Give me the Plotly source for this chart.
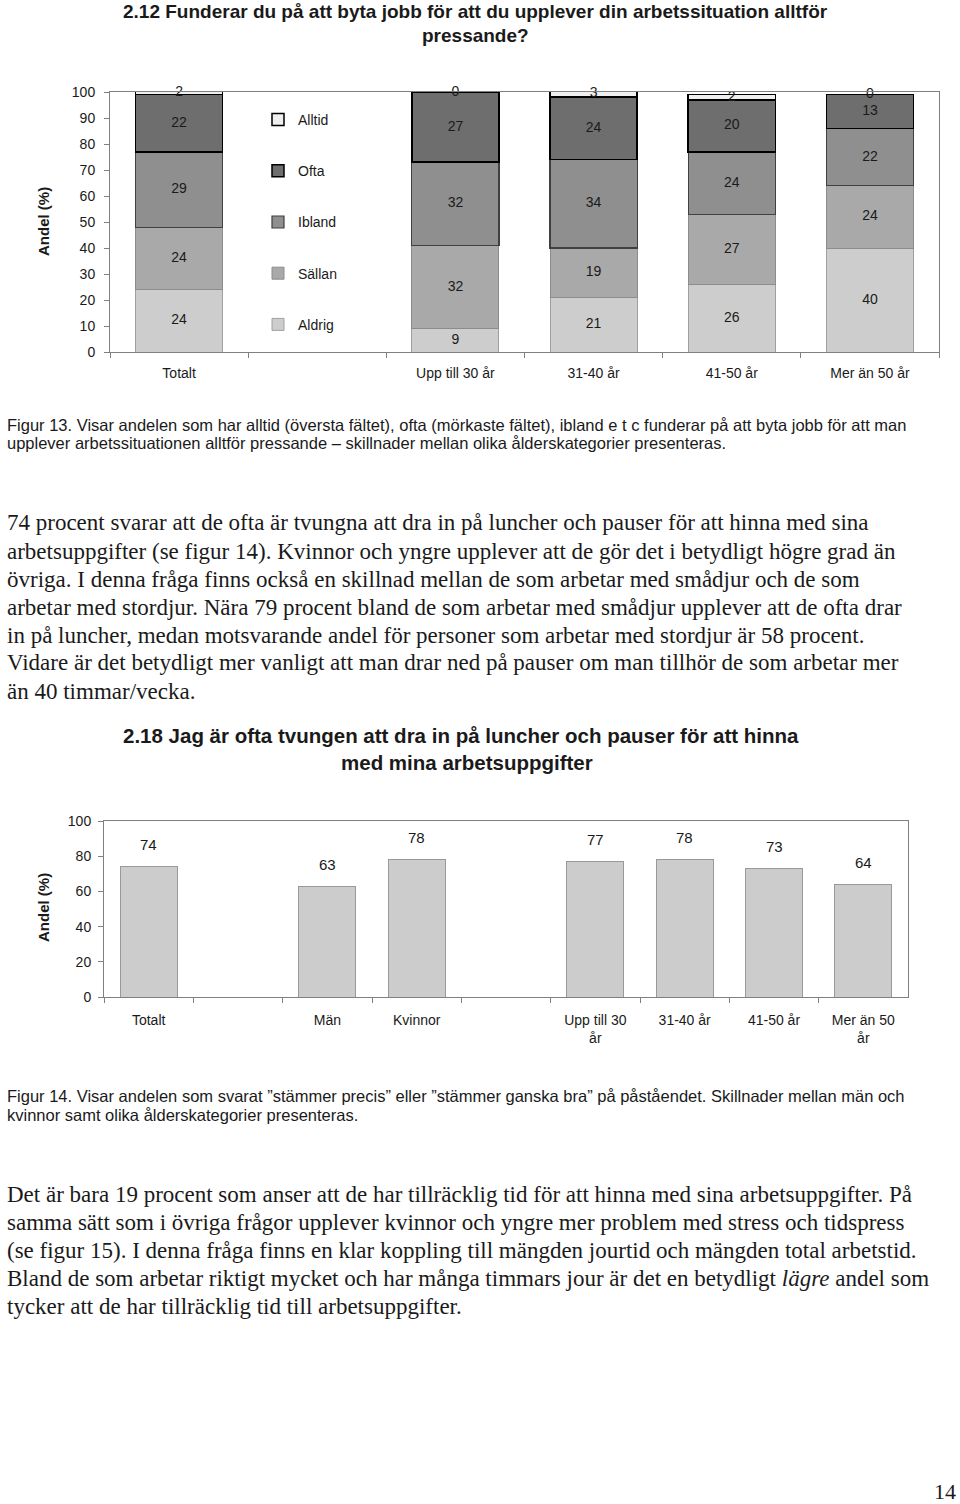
import numpy as np
import plotly.graph_objects as go

# Figur 13 - Funderar du på att byta jobb ...
grupper = ["Totalt", " ", "Upp till 30 år", "31-40 år", "41-50 år", "Mer än 50 år"]
aldrig = [24, None, 9, 21, 26, 40]
sallan = [24, None, 32, 19, 27, 24]
ibland = [29, None, 32, 34, 24, 22]
ofta = [22, None, 27, 24, 20, 13]
alltid = [2, None, 0, 3, 2, 0]

# Figur 14 - tvungen att dra in på luncher och pauser
grupper2 = ["Totalt", " ", "Män", "Kvinnor", "  ", "Upp till 30<br>år",
            "31-40 år", "41-50 år", "Mer än 50<br>år"]
andel = [74, None, 63, 78, None, 77, 78, 73, 64]

W, H = 960, 1504
SANS = "Liberation Sans, Arial, sans-serif"
SERIF = "Liberation Serif, Times New Roman, serif"
TXT = "#1a1a1a"
AXC = "#808080"


def px_x(v):
    return v / W


def px_y(v):
    return 1 - v / H


fig = go.Figure()

# staplade staplar, figur 13
serier = [
    ("Aldrig", aldrig, "#cdcdcd", "#a0a0a0", 1),
    ("Sällan", sallan, "#a9a9a9", "#8c8c8c", 1),
    ("Ibland", ibland, "#8f8f8f", "#404040", 1.2),
    ("Ofta", ofta, "#6e6e6e", "#000000", 1.5),
    ("Alltid", alltid, "#efefef", "#000000", 1.5),
]
bas = np.zeros(len(grupper))
for i, (namn, vals, farg, kant, lw) in enumerate(serier):
    fig.add_trace(go.Bar(
        x=grupper, y=vals, name=namn, legendgroup=namn,
        legendrank=len(serier) - i,
        width=0.63,
        marker=dict(color=farg, line=dict(color=kant, width=lw)),
        xaxis="x", yaxis="y",
        hovertemplate=namn + " %{x}: %{y}<extra></extra>",
    ))
    v = np.array([np.nan if a is None else a for a in vals], dtype=float)
    mitt = bas + v / 2
    ok = ~np.isnan(v)
    fig.add_trace(go.Scatter(
        x=[g for g, k in zip(grupper, ok) if k],
        y=mitt[ok],
        text=[str(int(a)) for a in v[ok]],
        mode="text", textfont=dict(size=14, color=TXT, family=SANS),
        showlegend=False, cliponaxis=False, hoverinfo="skip",
        xaxis="x", yaxis="y",
    ))
    bas = bas + np.nan_to_num(v)

# figur 14
fig.add_trace(go.Bar(
    x=grupper2, y=andel, width=0.64, showlegend=False,
    marker=dict(color="#cccccc", line=dict(color="#999999", width=1)),
    xaxis="x2", yaxis="y2",
    hovertemplate="%{x}: %{y}<extra></extra>",
))

annotations = []
for g, a in zip(grupper2, andel):
    if a is None:
        continue
    annotations.append(dict(
        x=g, y=a, xref="x2", yref="y2", text=str(a), showarrow=False,
        yshift=22, font=dict(size=15, color=TXT, family=SANS),
    ))


def rad(text, x, y, size, family, anchor="left", bold=False):
    if bold:
        text = "<b>" + text + "</b>"
    annotations.append(dict(
        x=px_x(x), y=px_y(y), xref="paper", yref="paper", text=text,
        showarrow=False, xanchor=anchor, yanchor="middle",
        font=dict(size=size, color=TXT, family=family),
    ))


# rubriker
rad("2.12 Funderar du på att byta jobb för att du upplever din arbetssituation alltför",
    475, 12, 19, SANS, "center", True)
rad("pressande?", 475, 35, 19, SANS, "center", True)
rad("2.18 Jag är ofta tvungen att dra in på luncher och pauser för att hinna",
    461, 736, 20.5, SANS, "center", True)
rad("med mina arbetsuppgifter", 467, 762, 20.5, SANS, "center", True)

# figurtexter
fig13 = [
    "Figur 13. Visar andelen som har alltid (översta fältet), ofta (mörkaste fältet), ibland e t c funderar på att byta jobb för att man",
    "upplever arbetssituationen alltför pressande – skillnader mellan olika ålderskategorier presenteras.",
]
for i, t in enumerate(fig13):
    rad(t, 5, 425 + i * 18, 16.5, SANS)

fig14 = [
    "Figur 14. Visar andelen som svarat ”stämmer precis” eller ”stämmer ganska bra” på påståendet. Skillnader mellan män och",
    "kvinnor samt olika ålderskategorier presenteras.",
]
for i, t in enumerate(fig14):
    rad(t, 5, 1096 + i * 19, 16.5, SANS)

# brödtext
stycke1 = [
    "74 procent svarar att de ofta är tvungna att dra in på luncher och pauser för att hinna med sina",
    "arbetsuppgifter (se figur 14). Kvinnor och yngre upplever att de gör det i betydligt högre grad än",
    "övriga. I denna fråga finns också en skillnad mellan de som arbetar med smådjur och de som",
    "arbetar med stordjur. Nära 79 procent bland de som arbetar med smådjur upplever att de ofta drar",
    "in på luncher, medan motsvarande andel för personer som arbetar med stordjur är 58 procent.",
    "Vidare är det betydligt mer vanligt att man drar ned på pauser om man tillhör de som arbetar mer",
    "än 40 timmar/vecka.",
]
for i, t in enumerate(stycke1):
    rad(t, 5, 523 + i * 28, 23, SERIF)

stycke2 = [
    "Det är bara 19 procent som anser att de har tillräcklig tid för att hinna med sina arbetsuppgifter. På",
    "samma sätt som i övriga frågor upplever kvinnor och yngre mer problem med stress och tidspress",
    "(se figur 15). I denna fråga finns en klar koppling till mängden jourtid och mängden total arbetstid.",
    "Bland de som arbetar riktigt mycket och har många timmars jour är det en betydligt <i>lägre</i> andel som",
    "tycker att de har tillräcklig tid till arbetsuppgifter.",
]
for i, t in enumerate(stycke2):
    rad(t, 5, 1194 + i * 28, 23, SERIF)

rad("14", 945, 1491, 22, SERIF, "center")

# y-axeltitlar
for yc in (222, 908):
    annotations.append(dict(
        x=px_x(43), y=px_y(yc), xref="paper", yref="paper", text="<b>Andel (%)</b>",
        textangle=-90, showarrow=False, xanchor="center", yanchor="middle",
        font=dict(size=15, color=TXT, family=SANS),
    ))

axbas = dict(showline=True, linecolor=AXC, linewidth=1, mirror=True,
             showgrid=False, zeroline=False, ticks="outside", ticklen=5,
             tickcolor=AXC, automargin=False,
             tickfont=dict(size=14, color=TXT, family=SANS))

fig.update_layout(
    width=W, height=H,
    margin=dict(l=0, r=0, t=0, b=0, autoexpand=False),
    paper_bgcolor="white", plot_bgcolor="white",
    barmode="stack",
    font=dict(family=SANS, size=14, color=TXT),
    xaxis=dict(axbas, domain=[px_x(110), px_x(939)], anchor="y",
               type="category", categoryorder="array", categoryarray=grupper,
               range=[-0.5, len(grupper) - 0.5], tickson="boundaries",
               ticklabelstandoff=8),
    yaxis=dict(axbas, domain=[px_y(352), px_y(92)], anchor="x",
               range=[0, 100], dtick=10, ticklabelstandoff=6),
    xaxis2=dict(axbas, domain=[px_x(104), px_x(908)], anchor="y2",
                type="category", categoryorder="array", categoryarray=grupper2,
                range=[-0.5, len(grupper2) - 0.5], tickson="boundaries",
                ticklabelstandoff=10),
    yaxis2=dict(axbas, domain=[px_y(997), px_y(821)], anchor="x2",
                range=[0, 100], dtick=20, ticklabelstandoff=4),
    legend=dict(
        x=px_x(258), y=px_y(104), xanchor="left", yanchor="top",
        traceorder="grouped", tracegroupgap=30,
        bgcolor="white", font=dict(size=14, color=TXT, family=SANS),
        itemwidth=30,
    ),
    annotations=annotations,
)

# sidans standardmarginal (8 px) tas bort så att figuren fyller fönstret
fig.write_html("out.html", config={"displayModeBar": False},
               post_script="document.body.style.margin = '0';")
